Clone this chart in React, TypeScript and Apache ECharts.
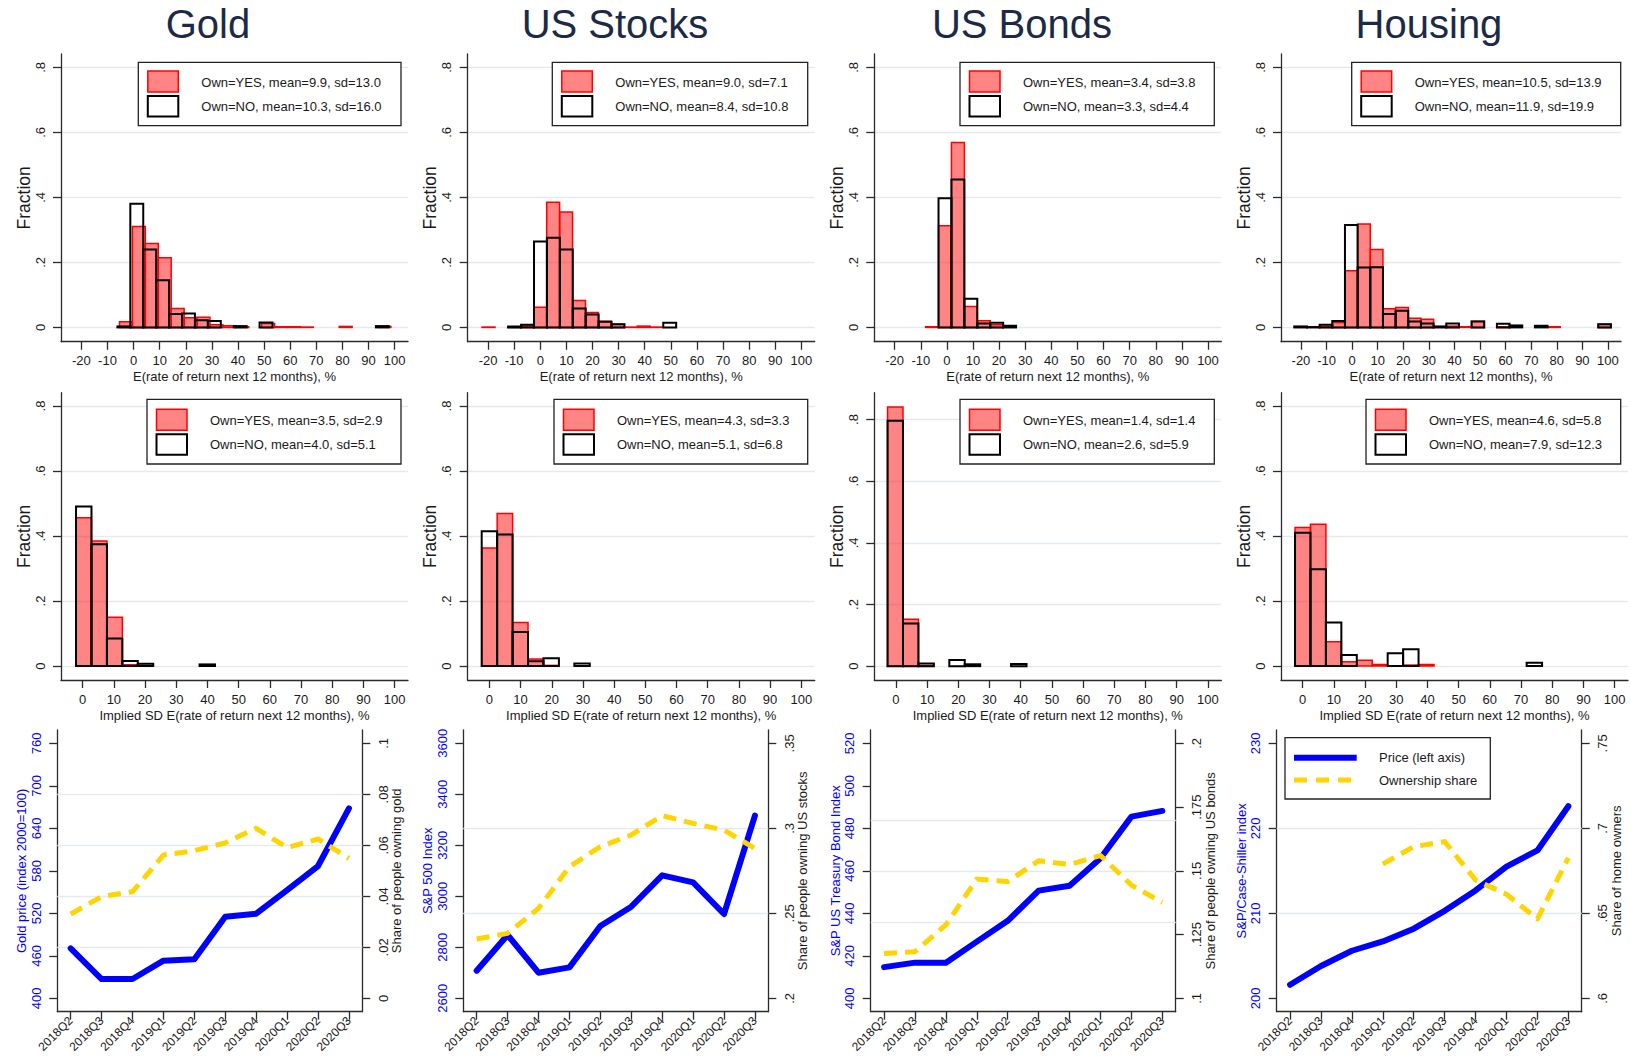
import React, { useEffect, useRef } from 'react';
import * as echarts from 'echarts';

const FONT = '"Liberation Sans", Arial, Helvetica, sans-serif';
const TXT = '#1a1a1a';
const AXIS = '#2b2b2b';
const GRID = '#e3eaef';
const BLUE = '#0000ff';
const YELLOW = '#ffd400';
const TITLE = '#1c2a48';
const RED = '#ff0000';
const RED_FILL = 'rgba(255,0,0,0.48)';

// ---------------- titles & labels ----------------
const assetTitles = ['Gold', 'US Stocks', 'US Bonds', 'Housing'];
const retAxisTitle = 'E(rate of return next 12 months), %';
const sdAxisTitle = 'Implied SD E(rate of return next 12 months), %';

const retTicks = [-20, -10, 0, 10, 20, 30, 40, 50, 60, 70, 80, 90, 100];
const sdTicks = [0, 10, 20, 30, 40, 50, 60, 70, 80, 90, 100];
const fractionTicks = [0, 0.2, 0.4, 0.6, 0.8];
const BIN = 4.95;

const retLegendYes = ['Own=YES, mean=9.9, sd=13.0', 'Own=YES, mean=9.0, sd=7.1', 'Own=YES, mean=3.4, sd=3.8', 'Own=YES, mean=10.5, sd=13.9'];
const retLegendNo = ['Own=NO, mean=10.3, sd=16.0', 'Own=NO, mean=8.4, sd=10.8', 'Own=NO, mean=3.3, sd=4.4', 'Own=NO, mean=11.9, sd=19.9'];
const sdLegendYes = ['Own=YES, mean=3.5, sd=2.9', 'Own=YES, mean=4.3, sd=3.3', 'Own=YES, mean=1.4, sd=1.4', 'Own=YES, mean=4.6, sd=5.8'];
const sdLegendNo = ['Own=NO, mean=4.0, sd=5.1', 'Own=NO, mean=5.1, sd=6.8', 'Own=NO, mean=2.6, sd=5.9', 'Own=NO, mean=7.9, sd=12.3'];

// ---------------- row 1: expected return histograms ----------------
const goldRetYesStart = -5.4;
const goldRetYes = [0.017, 0.31, 0.258, 0.214, 0.058, 0.03, 0.031, 0.008, 0.005, 0.002, 0, 0.012, 0.002, 0.002, 0.001, 0, 0, 0.003, 0, 0, 0.003];
const goldRetNoStart = -6.2;
const goldRetNo = [0.003, 0.38, 0.24, 0.145, 0.041, 0.043, 0.022, 0.02, 0, 0.004, 0, 0.015, 0, 0, 0, 0, 0, 0, 0, 0, 0.004];

const stocksRetYesStart = -22.3;
const stocksRetYes = [0.001, 0, 0.002, 0.004, 0.062, 0.385, 0.355, 0.083, 0.046, 0.019, 0.01, 0.001, 0.004, 0.001];
const stocksRetNoStart = -12.3;
const stocksRetNo = [0.003, 0.008, 0.264, 0.276, 0.24, 0.058, 0.04, 0.017, 0.01, 0, 0, 0, 0.0145];

const bondsRetYesStart = -8.15;
const bondsRetYes = [0.002, 0.313, 0.569, 0.064, 0.0205, 0.008, 0.003];
const bondsRetNoStart = -3.2;
const bondsRetNo = [0.397, 0.455, 0.088, 0.012, 0.014, 0.005];

const housingRetYesStart = -22.6;
const housingRetYes = [0.001, 0.002, 0.003, 0.015, 0.174, 0.318, 0.24, 0.057, 0.0615, 0.028, 0.025, 0.002, 0.004, 0.002, 0.019, 0, 0.002, 0, 0, 0, 0.002, 0, 0, 0, 0.01];
const housingRetNoStart = -22.6;
const housingRetNo = [0.003, 0.001, 0.008, 0.0195, 0.315, 0.184, 0.185, 0.041, 0.051, 0.018, 0.012, 0.003, 0.012, 0, 0.018, 0, 0.011, 0.006, 0, 0.005, 0, 0, 0, 0, 0.01];

// ---------------- row 2: implied SD histograms ----------------
const goldSdYesStart = -2.13;
const goldSdYes = [0.456, 0.385, 0.15, 0.004, 0.002];
const goldSdNoStart = -2.13;
const goldSdNo = [0.491, 0.375, 0.085, 0.0154, 0.007, 0, 0, 0, 0.005];

const stocksSdYesStart = -2.46;
const stocksSdYes = [0.363, 0.469, 0.134, 0.0215, 0.002];
const stocksSdNoStart = -2.46;
const stocksSdNo = [0.415, 0.405, 0.105, 0.015, 0.0236, 0, 0.008];

const bondsSdYesStart = -2.7;
const bondsSdYes = [0.841, 0.152, 0.002];
const bondsSdNoStart = -2.7;
const bondsSdNo = [0.796, 0.138, 0.0086, 0, 0.0195, 0.006, 0, 0, 0.007];

const housingSdYesStart = -2.45;
const housingSdYes = [0.426, 0.436, 0.075, 0.013, 0.018, 0.005, 0, 0.003, 0.005];
const housingSdNoStart = -2.45;
const housingSdNo = [0.41, 0.298, 0.134, 0.034, 0, 0, 0.039, 0.052, 0, 0, 0, 0, 0, 0, 0, 0.01];

// ---------------- row 3: prices and ownership shares ----------------
const quarters = ['2018Q2', '2018Q3', '2018Q4', '2019Q1', '2019Q2', '2019Q3', '2019Q4', '2020Q1', '2020Q2', '2020Q3'];
const goldPrice = [470.6, 427.3, 427.3, 453.2, 455.1, 515.3, 519.5, 552.9, 586.8, 668.2];
const goldShare = [0.0331, 0.0399, 0.0418, 0.0562, 0.0579, 0.061, 0.0667, 0.0591, 0.0625, 0.0549];
const stocksPrice = [2708.5, 2848.4, 2700.7, 2721.6, 2883.7, 2959.5, 3082.4, 3054.9, 2930.7, 3316.3];
const stocksShare = [0.2349, 0.2382, 0.2529, 0.2775, 0.2892, 0.2961, 0.3075, 0.3029, 0.299, 0.2882];
const bondsPrice = [414.7, 416.8, 416.8, 426.7, 436.5, 450.7, 453.0, 465.9, 485.5, 488.2];
const bondsShare = [0.1176, 0.1183, 0.1288, 0.1468, 0.1458, 0.154, 0.1525, 0.156, 0.1444, 0.1376];
const housingPrice = [201.6, 203.8, 205.6, 206.7, 208.2, 210.3, 212.7, 215.5, 217.4, 222.6];
const housingShare = [null, null, null, 0.679, 0.6892, 0.6922, 0.6696, 0.6612, 0.6467, 0.6827];

const goldPriceTicks = [400, 460, 520, 580, 640, 700, 760];
const goldShareTicks = [0, 0.02, 0.04, 0.06, 0.08, 0.1];
const stocksPriceTicks = [2600, 2800, 3000, 3200, 3400, 3600];
const stocksShareTicks = [0.2, 0.25, 0.3, 0.35];
const bondsPriceTicks = [400, 420, 440, 460, 480, 500, 520];
const bondsShareTicks = [0.1, 0.125, 0.15, 0.175, 0.2];
const housingPriceTicks = [200, 210, 220, 230];
const housingShareTicks = [0.6, 0.65, 0.7, 0.75];

const priceTitles = ['Gold price (index 2000=100)', 'S&P 500 Index', 'S&P US Treasury Bond Index', 'S&P/Case-Shiller index'];
const shareTitles = ['Share of people owning gold', 'Share of people owning US stocks', 'Share of people owning US bonds', 'Share of home owners'];
const legendLineLabels = ['Price (left axis)', 'Ownership share'];

// ---------------- layout ----------------
const COL_LEFT = [61, 467.7, 874.3, 1281];
const HIST_W_R1 = [347, 347, 347, 340];
const HIST_W_R2 = [347, 347, 347, 347];
const R1_TOP = 54, R1_H = 287.7;
const R2_TOP = 392.7, R2_H = 287.3;
const R1_X = [-27.8, 105.1];
const R2_X = [-6.95, 104.3];
const R1_Y = [[-0.044, 0.841], [-0.044, 0.841], [-0.044, 0.841], [-0.044, 0.841]];
const R2_Y = [[-0.043, 0.841], [-0.043, 0.841], [-0.045, 0.887], [-0.043, 0.841]];
const LINE_LEFT = [57.3, 463.3, 870.7, 1276.7];
const LINE_W = 305;
const R3_TOP = 730, R3_H = 281.7;
const PAD = 0.05235;

const LEG_R1_LEFT = [138.3, 552.3, 960, 1351.7];
const LEG_R2_LEFT = [147, 554, 960, 1366];
const LEG_RIGHT = [401, 807.7, 1214.3, 1620.7];
const TITLE_X = [208, 615, 1022, 1429];

function fmtDot(v: number) {
  if (v === 0) return '0';
  const s = String(+v.toFixed(4));
  return s.replace(/^0\./, '.').replace(/^-0\./, '-.');
}

function fmtPlain(v: number) {
  return String(+v.toFixed(4));
}

function histData(start: number, heights: number[]) {
  const out: number[][] = [];
  heights.forEach((h, i) => {
    if (h > 0) out.push([start + i * BIN, start + (i + 1) * BIN, h]);
  });
  return out;
}

function histSeries(name: string, g: number, start: number, heights: number[], yes: boolean) {
  return {
    type: 'custom',
    name,
    xAxisIndex: g,
    yAxisIndex: g,
    silent: true,
    clip: false,
    z: yes ? 2 : 3,
    encode: { x: [0, 1], y: 2 },
    data: histData(start, heights),
    renderItem: (_p: any, api: any) => {
      const p0 = api.coord([api.value(0), api.value(2)]);
      const p1 = api.coord([api.value(1), 0]);
      return {
        type: 'rect',
        shape: { x: p0[0], y: p0[1], width: p1[0] - p0[0], height: p1[1] - p0[1] },
        style: yes
          ? { fill: RED_FILL, stroke: RED, lineWidth: 1.5 }
          : { fill: 'none', stroke: '#000', lineWidth: 2 },
      };
    },
  };
}

const axisLineStyle = { color: AXIS, width: 1.3 };

function legendBox(left: number, right: number, top: number, h: number, yesText: string, noText: string, swOff: number) {
  return [
    { type: 'rect', silent: true, z: 10, shape: { x: left, y: top, width: right - left, height: h }, style: { fill: '#fff', stroke: '#222', lineWidth: 1.3 } },
    { type: 'rect', silent: true, z: 11, shape: { x: left + 9.5, y: top + swOff, width: 30.5, height: 21 }, style: { fill: RED_FILL, stroke: RED, lineWidth: 1.5 } },
    { type: 'rect', silent: true, z: 11, shape: { x: left + 9.5, y: top + swOff + 25, width: 30.5, height: 20.5 }, style: { fill: '#fff', stroke: '#000', lineWidth: 2 } },
    { type: 'text', silent: true, z: 11, style: { text: yesText, x: left + 63, y: top + swOff + 11.3, fill: TXT, fontSize: 13, fontFamily: FONT, verticalAlign: 'middle', align: 'left' } },
    { type: 'text', silent: true, z: 11, style: { text: noText, x: left + 63, y: top + swOff + 35.6, fill: TXT, fontSize: 13, fontFamily: FONT, verticalAlign: 'middle', align: 'left' } },
  ];
}

function buildOption() {
  const grid: any[] = [];
  const xAxis: any[] = [];
  const yAxis: any[] = [];
  const series: any[] = [];
  const graphic: any[] = [];

  const retYes = [[goldRetYesStart, goldRetYes], [stocksRetYesStart, stocksRetYes], [bondsRetYesStart, bondsRetYes], [housingRetYesStart, housingRetYes]] as [number, number[]][];
  const retNo = [[goldRetNoStart, goldRetNo], [stocksRetNoStart, stocksRetNo], [bondsRetNoStart, bondsRetNo], [housingRetNoStart, housingRetNo]] as [number, number[]][];
  const sdYes = [[goldSdYesStart, goldSdYes], [stocksSdYesStart, stocksSdYes], [bondsSdYesStart, bondsSdYes], [housingSdYesStart, housingSdYes]] as [number, number[]][];
  const sdNo = [[goldSdNoStart, goldSdNo], [stocksSdNoStart, stocksSdNo], [bondsSdNoStart, bondsSdNo], [housingSdNoStart, housingSdNo]] as [number, number[]][];

  for (let r = 0; r < 2; r++) {
    for (let c = 0; c < 4; c++) {
      const g = r * 4 + c;
      const ticks = r === 0 ? retTicks : sdTicks;
      const xr = r === 0 ? R1_X : R2_X;
      const yr = r === 0 ? R1_Y[c] : R2_Y[c];
      grid.push({
        left: COL_LEFT[c], top: r === 0 ? R1_TOP : R2_TOP,
        width: r === 0 ? HIST_W_R1[c] : HIST_W_R2[c], height: r === 0 ? R1_H : R2_H,
        containLabel: false, outerBoundsMode: 'none',
      });
      xAxis.push({
        type: 'value', gridIndex: g, min: xr[0], max: xr[1],
        axisLine: { show: true, onZero: false, lineStyle: axisLineStyle },
        axisTick: { show: true, length: 8, lineStyle: axisLineStyle, customValues: ticks },
        axisLabel: { customValues: ticks, formatter: fmtPlain, fontSize: 13, color: TXT, fontFamily: FONT, margin: 12, lineHeight: 14 },
        splitLine: { show: false },
        name: r === 0 ? retAxisTitle : sdAxisTitle, nameLocation: 'middle', nameGap: 28.5, nameMoveOverlap: false,
        nameTextStyle: { fontSize: 13, color: TXT, fontFamily: FONT, lineHeight: 13 },
      });
      yAxis.push({
        type: 'value', gridIndex: g, min: yr[0], max: yr[1],
        axisLine: { show: true, onZero: false, lineStyle: axisLineStyle },
        axisTick: { show: true, length: 8, lineStyle: axisLineStyle, customValues: fractionTicks },
        axisLabel: { customValues: fractionTicks, rotate: 90, formatter: fmtDot, fontSize: 13, color: TXT, fontFamily: FONT, margin: 14, lineHeight: 14 },
        splitLine: { show: true, lineStyle: { color: GRID, width: 1.3 } },
        name: 'Fraction', nameLocation: 'middle', nameGap: 29, nameRotate: 90, nameMoveOverlap: false,
        nameTextStyle: { fontSize: 17.5, color: TXT, fontFamily: FONT, lineHeight: 17 },
      });
      const yesArr = r === 0 ? retYes[c] : sdYes[c];
      const noArr = r === 0 ? retNo[c] : sdNo[c];
      const yesName = r === 0 ? retLegendYes[c] : sdLegendYes[c];
      const noName = r === 0 ? retLegendNo[c] : sdLegendNo[c];
      series.push(histSeries(yesName, g, yesArr[0], yesArr[1], true));
      series.push(histSeries(noName, g, noArr[0], noArr[1], false));
      if (r === 0) graphic.push(...legendBox(LEG_R1_LEFT[c], LEG_RIGHT[c], 62.3, 63.4, yesName, noName, 8.7));
      else graphic.push(...legendBox(LEG_R2_LEFT[c], LEG_RIGHT[c], 399.3, 64.7, yesName, noName, 10));
    }
  }

  const prices = [goldPrice, stocksPrice, bondsPrice, housingPrice];
  const shares = [goldShare, stocksShare, bondsShare, housingShare];
  const priceTicks = [goldPriceTicks, stocksPriceTicks, bondsPriceTicks, housingPriceTicks];
  const shareTicks = [goldShareTicks, stocksShareTicks, bondsShareTicks, housingShareTicks];
  const qIdx = quarters.map((_, i) => i);

  for (let c = 0; c < 4; c++) {
    const g = 8 + c;
    const yl = 8 + c * 2;
    const yr = yl + 1;
    grid.push({ left: LINE_LEFT[c], top: R3_TOP, width: LINE_W, height: R3_H, containLabel: false, outerBoundsMode: 'none' });
    xAxis.push({
      type: 'value', gridIndex: g, min: -0.432, max: quarters.length - 1 + 0.432,
      axisLine: { show: true, onZero: false, lineStyle: axisLineStyle },
      axisTick: { show: true, length: 8, lineStyle: axisLineStyle, customValues: qIdx },
      axisLabel: { customValues: qIdx, rotate: 45, formatter: (v: number) => quarters[Math.round(v)], fontSize: 12, color: TXT, fontFamily: FONT, margin: 7 },
      splitLine: { show: false },
    });
    const pt = priceTicks[c];
    const pspan = pt[pt.length - 1] - pt[0];
    yAxis.push({
      type: 'value', gridIndex: g, position: 'left',
      min: pt[0] - PAD * pspan, max: pt[pt.length - 1] + PAD * pspan,
      axisLine: { show: true, onZero: false, lineStyle: axisLineStyle },
      axisTick: { show: true, length: 8, lineStyle: axisLineStyle, customValues: pt },
      axisLabel: { customValues: pt, rotate: 90, formatter: fmtPlain, fontSize: 13, color: BLUE, fontFamily: FONT, margin: 14, lineHeight: 14 },
      splitLine: { show: false },
      name: priceTitles[c], nameLocation: 'middle', nameGap: 29, nameRotate: 90, nameMoveOverlap: false,
      nameTextStyle: { fontSize: 13, color: BLUE, fontFamily: FONT, lineHeight: 13 },
    });
    const st = shareTicks[c];
    const sspan = st[st.length - 1] - st[0];
    yAxis.push({
      type: 'value', gridIndex: g, position: 'right',
      min: st[0] - PAD * sspan, max: st[st.length - 1] + PAD * sspan,
      axisLine: { show: true, onZero: false, lineStyle: axisLineStyle },
      axisTick: { show: true, length: 8, lineStyle: axisLineStyle, customValues: st },
      axisLabel: { customValues: st, rotate: 90, formatter: fmtDot, fontSize: 13, color: TXT, fontFamily: FONT, margin: 14, lineHeight: 14 },
      splitLine: { show: false },
      name: shareTitles[c], nameLocation: 'middle', nameGap: 28, nameRotate: 90, nameMoveOverlap: false,
      nameTextStyle: { fontSize: 13, color: TXT, fontFamily: FONT, lineHeight: 13 },
    });
    series.push({
      type: 'line', name: assetTitles[c] + ' price', xAxisIndex: g, yAxisIndex: yl,
      data: prices[c].map((v, i) => [i, v]), symbol: 'none', showSymbol: false, silent: true, z: 3,
      lineStyle: { color: BLUE, width: 6, join: 'round', cap: 'round' }, itemStyle: { color: BLUE },
    });
    series.push({
      type: 'line', name: assetTitles[c] + ' ownership share', xAxisIndex: g, yAxisIndex: yr,
      data: (shares[c] as (number | null)[]).map((v, i) => (v == null ? null : [i, v])).filter((d) => d !== null),
      symbol: 'none', showSymbol: false, silent: true, z: 4,
      lineStyle: { color: YELLOW, width: 5, type: [13, 8], cap: 'butt', join: 'round' }, itemStyle: { color: YELLOW },
      markLine: {
        silent: true, symbol: 'none', z: 1, animation: false,
        label: { show: false },
        lineStyle: { color: GRID, width: 1.3, type: 'solid' },
        data: st.slice(1, -1).map((v) => ({ yAxis: v })),
      },
    });
  }

  // big titles
  assetTitles.forEach((t, i) => {
    graphic.push({ type: 'text', silent: true, style: { text: t, x: TITLE_X[i], y: 24, fill: TITLE, fontSize: 40, fontFamily: FONT, align: 'center', verticalAlign: 'middle' } });
  });

  // housing line legend
  graphic.push(
    { type: 'rect', silent: true, z: 10, shape: { x: 1285, y: 737.7, width: 205.3, height: 61.3 }, style: { fill: '#fff', stroke: '#222', lineWidth: 1.3 } },
    { type: 'line', silent: true, z: 11, shape: { x1: 1294, y1: 757.7, x2: 1356.7, y2: 757.7 }, style: { stroke: BLUE, lineWidth: 6 } },
    { type: 'line', silent: true, z: 11, shape: { x1: 1294, y1: 780, x2: 1356.7, y2: 780 }, style: { stroke: YELLOW, lineWidth: 5, lineDash: [13, 9] } },
    { type: 'text', silent: true, z: 11, style: { text: legendLineLabels[0], x: 1379, y: 757.7, fill: TXT, fontSize: 13, fontFamily: FONT, verticalAlign: 'middle', align: 'left' } },
    { type: 'text', silent: true, z: 11, style: { text: legendLineLabels[1], x: 1379, y: 780, fill: TXT, fontSize: 13, fontFamily: FONT, verticalAlign: 'middle', align: 'left' } },
  );

  return {
    animation: false,
    backgroundColor: '#ffffff',
    textStyle: { fontFamily: FONT },
    grid, xAxis, yAxis, series, graphic,
  };
}

export default function App() {
  const ref = useRef<HTMLDivElement>(null);
  useEffect(() => {
    if (!ref.current) return;
    const chart = echarts.init(ref.current, null, { renderer: 'svg' });
    chart.setOption(buildOption() as any);
    return () => chart.dispose();
  }, []);
  return (
    <div
      ref={ref}
      style={{ position: 'absolute', left: 0, top: 0, width: 1631, height: 1056, background: '#fff' }}
    />
  );
}
